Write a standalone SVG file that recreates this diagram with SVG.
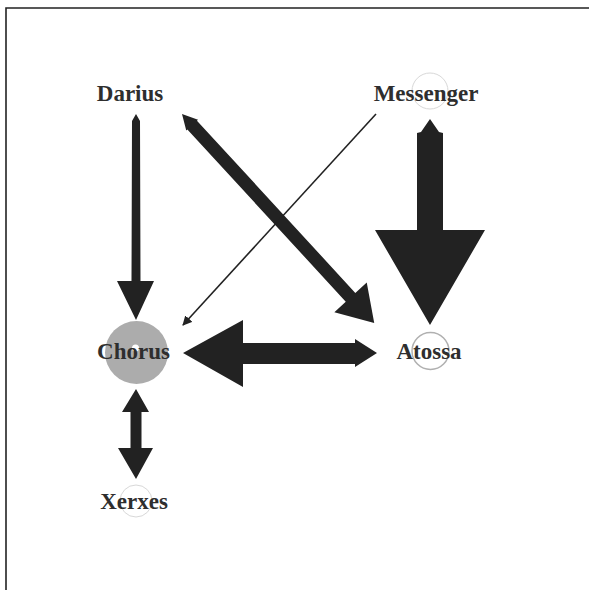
<svg xmlns="http://www.w3.org/2000/svg" width="589" height="590" viewBox="0 0 589 590">
  <style>
    .label { font-family: "Liberation Serif", "DejaVu Serif", serif; font-weight: bold; font-size: 23px; fill: #2e2e2e; text-anchor: middle; }
    .arrow { fill: #222222; stroke: none; }
    .ring { fill: none; stroke: #d8d8d8; stroke-width: 1; }
    .frame { stroke: #222222; stroke-width: 1.6; fill: none; }
  </style>
  <defs>
    <marker id="thinHead" viewBox="0 0 10 10" refX="9" refY="5" markerWidth="6" markerHeight="6" orient="auto" markerUnits="strokeWidth">
      <path d="M0,0 L10,5 L0,10 z" fill="#222222"/>
    </marker>
  </defs>

  <!-- page frame: top and left edges only -->
  <polyline class="frame" points="6,590 6,8 589,8"/>

  <g id="connectors">
    <!-- Darius to Chorus -->
    <polygon class="arrow" points="136,114 140,121 140.5,281 154,281 136,320 117,281 131.5,281 132,121"/>
    <!-- Messenger to Atossa -->
    <polygon class="arrow" points="430,119 439,132 443,133 443,230 485,230 430,325 375,230 417,230 417,133 421,132"/>
    <!-- Chorus and Atossa, both ways -->
    <polygon class="arrow" points="183,353 243,320 243,343 355,343 355,339 377,353 355,367 355,364 243,364 243,387"/>
    <!-- Darius and Atossa, both ways -->
    <g transform="translate(182,114) rotate(47.4)">
      <polygon class="arrow" points="0,0 15,-8 15,-6.5 249,-6.5 249,-22 284,0 249,22 249,6.5 15,6.5 15,8"/>
    </g>
    <!-- Messenger to Chorus -->
    <line x1="376" y1="114" x2="183" y2="325" stroke="#222222" stroke-width="1.6" marker-end="url(#thinHead)"/>
    <!-- Chorus and Xerxes, both ways -->
    <polygon class="arrow" points="136,389 149,412 141.5,412 141.5,448 153,448 136,479 118,448 130.5,448 130.5,412 122,412"/>
  </g>

  <g id="node-darius">
    <text class="label" x="130" y="101">Darius</text>
  </g>

  <g id="node-messenger">
    <circle class="ring" cx="430" cy="91" r="18"/>
    <text class="label" x="426" y="101">Messenger</text>
  </g>

  <g id="node-chorus">
    <circle cx="136.5" cy="352.5" r="31.5" fill="#acacac"/>
    <circle cx="135.5" cy="348" r="3.5" fill="#ffffff"/>
    <text class="label" x="133.5" y="359">Chorus</text>
  </g>

  <g id="node-atossa">
    <circle cx="430.5" cy="351" r="18.5" fill="none" stroke="#b0b0b0" stroke-width="1.5"/>
    <text class="label" x="429" y="359">Atossa</text>
  </g>

  <g id="node-xerxes">
    <circle class="ring" cx="136" cy="501" r="16"/>
    <text class="label" x="134" y="509">Xerxes</text>
  </g>
</svg>
